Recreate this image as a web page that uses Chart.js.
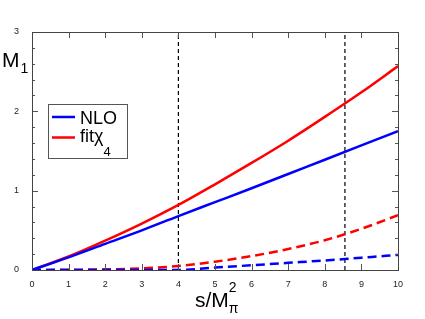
<!DOCTYPE html>
<html>
<head>
<meta charset="utf-8">
<script src="https://cdn.jsdelivr.net/npm/chart.js@4"></script>
<style>
  html, body { margin: 0; padding: 0; background: #fff; }
  #wrap { width: 425px; height: 319px; }
</style>
</head>
<body>
<div id="wrap"><canvas id="chart"></canvas></div>
<script>
// valores
const sValues = [0, 1, 2, 3, 4, 5, 6, 7, 8, 9, 10];
const nloSolid = [0, 0.16, 0.33, 0.50, 0.68, 0.855, 1.03, 1.21, 1.39, 1.57, 1.75];
const fitSolid = [0, 0.17, 0.37, 0.585, 0.82, 1.08, 1.35, 1.63, 1.93, 2.24, 2.57];
const nloDashed = [0, 0, 0, 0, 0, 0.03, 0.06, 0.09, 0.12, 0.155, 0.19];
const fitDashed = [0, 0.003, 0.008, 0.02, 0.05, 0.105, 0.175, 0.265, 0.375, 0.52, 0.69];
const thresholds = [4, 8.55];
const xTicks = [0, 1, 2, 3, 4, 5, 6, 7, 8, 9, 10];
const yTicks = [0, 1, 2, 3];
const yMinorStep = 0.2;

const pts = ys => sValues.map((x, i) => ({ x: x, y: ys[i] }));

const datasets = [
  { label: 'NLO', data: pts(nloSolid), borderColor: '#0000ff', borderWidth: 2.5 },
  { label: 'fitχ4', data: pts(fitSolid), borderColor: '#ff0000', borderWidth: 2.5 },
  { label: 'NLO d', data: pts(nloDashed), borderColor: '#0000ff', borderWidth: 2.5, borderDash: [9, 5] },
  { label: 'fit d', data: pts(fitDashed), borderColor: '#ff0000', borderWidth: 2.5, borderDash: [9, 5] }
];
thresholds.forEach(t => {
  datasets.push({
    label: 'thr', data: [{ x: t, y: 0 }, { x: t, y: 3 }],
    borderColor: '#000', borderWidth: 1.2, borderDash: [4, 3], cubicInterpolationMode: 'default', tension: 0
  });
});

// marco, marcas y textos
const decor = {
  id: 'decor',
  afterDatasetsDraw(chart) {
    const c = chart.ctx, a = chart.chartArea;
    const xs = chart.scales.x, ys = chart.scales.y;
    c.save();
    c.strokeStyle = '#555';
    c.lineWidth = 1;
    // marcas x (abajo y arriba)
    xTicks.forEach(v => {
      const px = Math.round(xs.getPixelForValue(v)) + 0.5;
      c.beginPath();
      c.moveTo(px, a.bottom); c.lineTo(px, a.bottom - 6);
      c.moveTo(px, a.top); c.lineTo(px, a.top + 6);
      c.stroke();
    });
    // marcas y
    for (let v = 0; v <= 3.001; v += yMinorStep) {
      const major = Math.abs(v - Math.round(v)) < 1e-6;
      const len = major ? 6 : 3;
      const py = Math.round(ys.getPixelForValue(v)) + 0.5;
      c.beginPath();
      c.moveTo(a.left, py); c.lineTo(a.left + len, py);
      c.moveTo(a.right, py); c.lineTo(a.right - len, py);
      c.stroke();
    }
    c.strokeStyle = '#444';
    c.strokeRect(Math.round(a.left) + 0.5, Math.round(a.top) + 0.5,
      Math.round(a.right - a.left), Math.round(a.bottom - a.top));

    // leyenda
    c.fillStyle = '#fff';
    c.fillRect(48.5, 104.5, 79, 54);
    c.strokeStyle = '#555';
    c.strokeRect(48.5, 104.5, 79, 54);
    c.lineWidth = 2.5;
    c.strokeStyle = '#0000ff';
    c.beginPath(); c.moveTo(52, 117); c.lineTo(75, 117); c.stroke();
    c.strokeStyle = '#ff0000';
    c.beginPath(); c.moveTo(52, 137.5); c.lineTo(75, 137.5); c.stroke();
    c.fillStyle = '#000';
    c.textBaseline = 'alphabetic';
    c.textAlign = 'left';
    c.font = '18px "Liberation Sans", Arial, sans-serif';
    c.fillText('NLO', 80, 123.5);
    c.fillText('fitχ', 80, 142);
    const w = c.measureText('fitχ').width;
    c.font = '13px "Liberation Sans", Arial, sans-serif';
    c.fillText('4', 80 + w, 156);

    // titulos de ejes
    c.font = '21px "Liberation Sans", Arial, sans-serif';
    c.fillText('M', 2, 67);
    const mw = c.measureText('M').width;
    c.font = '14px "Liberation Sans", Arial, sans-serif';
    c.fillText('1', 2 + mw + 1, 73);

    c.font = '21px "Liberation Sans", Arial, sans-serif';
    c.fillText('s/M', 195, 307);
    const sw = c.measureText('s/M').width;
    c.font = '14px "Liberation Sans", Arial, sans-serif';
    c.fillText('2', 195 + sw, 292);
    c.fillText('π', 195 + sw, 313);
    c.restore();
  }
};

const tickFont = { family: '"Liberation Sans", Arial, sans-serif', size: 9 };

new Chart(document.getElementById('chart'), {
  type: 'line',
  data: { datasets: datasets },
  options: {
    responsive: true,
    maintainAspectRatio: false,
    animation: false,
    parsing: false,
    layout: { padding: { top: 32, right: 27, left: 0, bottom: 0 } },
    elements: {
      point: { radius: 0 },
      line: { cubicInterpolationMode: 'monotone', fill: false }
    },
    plugins: {
      legend: { display: false },
      tooltip: { enabled: false }
    },
    scales: {
      x: {
        type: 'linear', min: 0, max: 10,
        grid: { display: false },
        border: { display: false },
        afterFit: s => { s.height = 49; },
        afterBuildTicks: s => { s.ticks = xTicks.map(v => ({ value: v })); },
        ticks: { font: tickFont, color: '#222', padding: 1, maxRotation: 0, autoSkip: false }
      },
      y: {
        type: 'linear', min: 0, max: 3,
        grid: { display: false },
        border: { display: false },
        afterFit: s => { s.width = 32; },
        afterBuildTicks: s => { s.ticks = yTicks.map(v => ({ value: v })); },
        ticks: { font: tickFont, color: '#222', padding: 5 }
      }
    }
  },
  plugins: [decor]
});
</script>
</body>
</html>
